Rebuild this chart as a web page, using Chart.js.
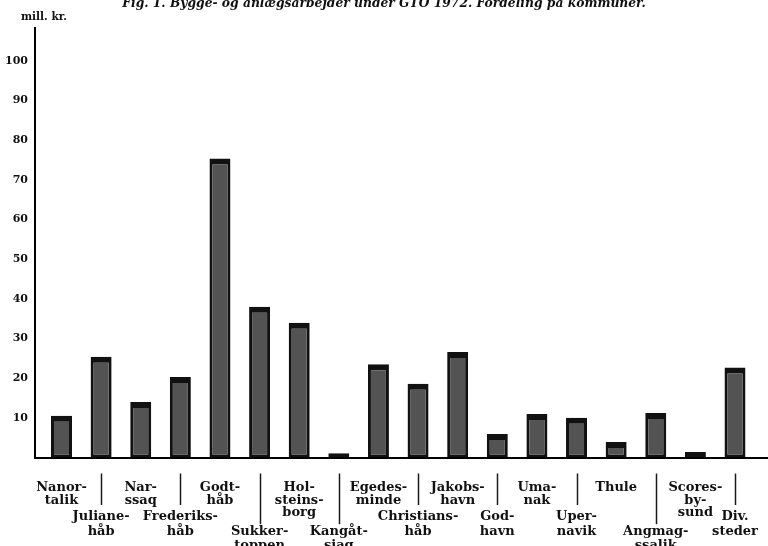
<!DOCTYPE html>
<html>
<head>
<meta charset="utf-8">
<script src="https://cdn.jsdelivr.net/npm/chart.js@4/dist/chart.umd.min.js"></script>
<style>
  html, body { margin: 0; padding: 0; background: #ffffff; }
  #wrap { width: 768px; height: 546px; position: relative; }
</style>
</head>
<body>
<div id="wrap"><canvas id="c"></canvas></div>
<script>
// ---- data ----
const titleText = "Fig. 1. Bygge- og anlægsarbejder under GTO 1972. Fordeling på kommuner.";
const unitLabel = "mill. kr.";
const categories = [
  ["Nanor-", "talik"],
  ["Juliane-", "håb"],
  ["Nar-", "ssaq"],
  ["Frederiks-", "håb"],
  ["Godt-", "håb"],
  ["Sukker-", "toppen"],
  ["Hol-", "steins-", "borg"],
  ["Kangåt-", "siaq"],
  ["Egedes-", "minde"],
  ["Christians-", "håb"],
  ["Jakobs-", "havn"],
  ["God-", "havn"],
  ["Uma-", "nak"],
  ["Uper-", "navik"],
  ["Thule"],
  ["Angmag-", "ssalik"],
  ["Scores-", "by-", "sund"],
  ["Div.", "steder"]
];
const values = [10.5, 25.4, 14.0, 20.3, 75.4, 38.0, 34.0, 1.1, 23.5, 18.6, 26.6, 5.9, 11.0, 10.0, 3.9, 11.2, 1.4, 22.7];
// label row: 0 = upper row, 1 = lower row, 2 = lower row (deeper)
const labelRow = [0, 1, 0, 1, 0, 2, 0, 2, 0, 1, 0, 1, 0, 1, 0, 2, 0, 1];
const yTickValues = [10, 20, 30, 40, 50, 60, 70, 80, 90, 100];

// ---- styles ----
const SERIF = "'DejaVu Serif', 'Liberation Serif', serif";
const blanks = [0, 2, 3];
const lhUpper = 12.5, lhLower = 14.2;

const separatorPlugin = {
  id: 'separators',
  afterDraw(chart) {
    const ctx = chart.ctx;
    const xs = chart.scales.x;
    const pad = chart.options.scales.x.ticks.padding;
    ctx.save();
    ctx.strokeStyle = '#1a1a1a';
    ctx.lineWidth = 1.5;
    for (let i = 0; i < categories.length; i++) {
      if (labelRow[i] === 0) continue;
      const x = Math.round(xs.getPixelForValue(i)) + 0.5;
      const top = xs.top + 16;
      const firstLine = xs.top + pad + lhLower * (blanks[labelRow[i]] + 0.5);
      const end = firstLine - (labelRow[i] === 2 ? 7 : 12);
      ctx.beginPath();
      ctx.moveTo(x, top);
      ctx.lineTo(x, end);
      ctx.stroke();
    }
    // unit label
    ctx.fillStyle = '#111';
    ctx.font = "bold 10.5px " + SERIF;
    ctx.textBaseline = 'middle';
    ctx.textAlign = 'left';
    ctx.fillText(unitLabel, chart.scales.y.left + 21, 17);
    ctx.restore();
  }
};

const chart = new Chart(document.getElementById('c'), {
  type: 'bar',
  data: {
    datasets: [{
      data: values.map((v, i) => ({ x: i, y: v })),
      backgroundColor: '#535353',
      borderColor: '#111111',
      borderWidth: { top: 6, left: 3, right: 3, bottom: 3 },
      borderSkipped: false,
      barPercentage: 0.53,
      categoryPercentage: 1.0
    }]
  },
  options: {
    responsive: true,
    maintainAspectRatio: false,
    animation: false,
    layout: { padding: { left: 0, right: 0, top: 0, bottom: 0 } },
    plugins: {
      legend: { display: false },
      tooltip: { enabled: false },
      title: {
        display: true,
        text: titleText,
        color: '#111',
        font: { family: SERIF, size: 12.3, weight: 'bold', style: 'italic', lineHeight: '12px' },
        padding: { top: -2, bottom: 18 }
      }
    },
    scales: {
      x: {
        type: 'linear',
        offset: false,
        min: -0.669,
        max: 17.833,
        grid: { display: false, drawTicks: false, offset: false },
        border: { display: true, color: '#000', width: 2 },
        afterBuildTicks: (scale) => { scale.ticks = categories.map((_, i) => ({ value: i })); },
        afterFit: (scale) => { scale.height = 88.5; scale.paddingLeft = 0; scale.paddingRight = 0; },
        ticks: {
          autoSkip: false,
          maxRotation: 0,
          minRotation: 0,
          padding: 24,
          color: '#111',
          font: (ctx) => ({
            family: SERIF, size: 13, weight: 'bold',
            lineHeight: (labelRow[ctx.index] === 0 ? lhUpper : lhLower) + 'px'
          }),
          callback: (value, index) => {
            const i = Math.round(value);
            const lines = categories[i] || [];
            const pre = new Array(blanks[labelRow[i]] || 0).fill('');
            return pre.concat(lines);
          }
        }
      },
      y: {
        min: 0,
        max: 108.3,
        grid: { display: false, drawTicks: false },
        border: { display: true, color: '#000', width: 2 },
        afterBuildTicks: (scale) => { scale.ticks = yTickValues.map(v => ({ value: v })); },
        afterFit: (scale) => { scale.width = 35; scale.paddingTop = 0; scale.paddingBottom = 0; },
        ticks: {
          padding: 7,
          color: '#111',
          font: { family: SERIF, size: 11, weight: 'bold' }
        }
      }
    }
  },
  plugins: [separatorPlugin]
});
</script>
</body>
</html>
